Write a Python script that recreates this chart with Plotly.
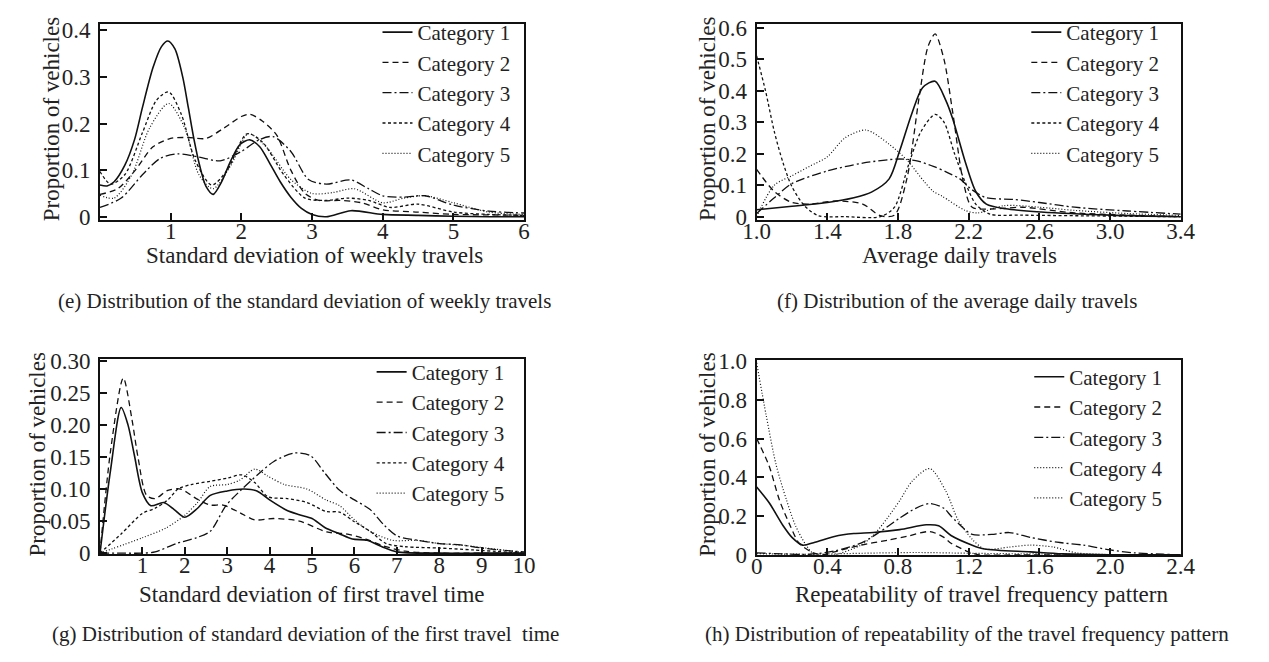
import plotly.graph_objects as go

W, H = 1269, 662
FONT = "Liberation Serif"
TXT = "#222222"
LINE = "#111111"

categories = ["Category 1", "Category 2", "Category 3", "Category 4", "Category 5"]

# ---------------- (e) standard deviation of weekly travels ----------------
e_x1 = [0, 0.1, 0.2, 0.35, 0.49, 0.6, 0.75, 0.87, 0.96, 1.06, 1.17, 1.25, 1.33, 1.41, 1.5, 1.6, 1.72, 1.85, 1.98,
        2.12, 2.26, 2.4, 2.55, 2.7, 2.85, 3.0, 3.2, 3.55, 4.0, 4.5, 5.0, 5.5, 6.0]
e_y1 = [0.068, 0.066, 0.075, 0.11, 0.166, 0.234, 0.32, 0.365, 0.377, 0.36, 0.3, 0.234, 0.166, 0.11, 0.065, 0.048,
        0.075, 0.12, 0.155, 0.165, 0.15, 0.115, 0.075, 0.042, 0.018, 0.005, 0.0, 0.013, 0.005, 0.003, 0.001, 0.0, 0.0]
e_x2 = [0, 0.25, 0.5, 0.75, 1.0, 1.25, 1.5, 1.75, 2.0, 2.12, 2.3, 2.5, 2.7, 2.9, 3.1, 3.4, 3.7, 4.0, 4.5, 5.0, 5.5, 6.0]
e_y2 = [0.048, 0.06, 0.1, 0.15, 0.168, 0.17, 0.168, 0.19, 0.215, 0.22, 0.205, 0.175, 0.1, 0.05, 0.035, 0.035, 0.03,
        0.015, 0.01, 0.005, 0.004, 0.003]
e_x3 = [0, 0.3, 0.6, 0.85, 1.1, 1.4, 1.7, 2.0, 2.25, 2.45, 2.7, 2.95, 3.2, 3.55, 3.8, 4.0, 4.3, 4.6, 5.0, 5.5, 6.0]
e_y3 = [0.02, 0.04, 0.09, 0.125, 0.135, 0.128, 0.12, 0.14, 0.165, 0.172, 0.14, 0.08, 0.07, 0.079, 0.06, 0.045, 0.042,
        0.045, 0.025, 0.012, 0.008]
e_x4 = [0, 0.15, 0.35, 0.6, 0.8, 0.97, 1.15, 1.35, 1.58, 1.8, 2.08, 2.3, 2.6, 2.9, 3.2, 3.5, 3.8, 4.1, 4.5, 5.0, 5.5, 6.0]
e_y4 = [0.097, 0.07, 0.09, 0.18, 0.25, 0.268, 0.22, 0.12, 0.068, 0.1, 0.178, 0.16, 0.09, 0.04, 0.035, 0.04, 0.035,
        0.02, 0.027, 0.01, 0.005, 0.003]
e_x5 = [0, 0.2, 0.45, 0.7, 0.97, 1.2, 1.4, 1.6, 1.85, 2.1, 2.35, 2.7, 3.0, 3.3, 3.6, 4.0, 4.3, 4.6, 5.0, 5.5, 6.0]
e_y5 = [0.046, 0.04, 0.09, 0.19, 0.243, 0.19, 0.09, 0.06, 0.11, 0.178, 0.15, 0.08, 0.05, 0.052, 0.06, 0.03, 0.04,
        0.045, 0.03, 0.01, 0.005]
e_xticks = [1, 2, 3, 4, 5, 6]
e_xtext = ["1", "2", "3", "4", "5", "6"]
e_yticks = [0, 0.1, 0.2, 0.3, 0.4]
e_ytext = ["0", "0.1", "0.2", "0.3", "0.4"]

# ---------------- (f) average daily travels ----------------
f_x1 = [1.0, 1.2, 1.4, 1.55, 1.65, 1.75, 1.81, 1.88, 1.94, 2.01, 2.07, 2.11, 2.18, 2.24, 2.3, 2.41, 2.61, 3.0, 3.4]
f_y1 = [0.022, 0.033, 0.045, 0.06, 0.078, 0.12, 0.21, 0.33, 0.41, 0.43, 0.37, 0.31, 0.175, 0.08, 0.04, 0.025, 0.015,
        0.005, 0.0]
f_x2 = [1.0, 1.1, 1.2, 1.3, 1.45, 1.6, 1.7, 1.78, 1.85, 1.92, 1.97, 2.01, 2.06, 2.11, 2.17, 2.22, 2.35, 2.5, 2.8,
        3.1, 3.4]
f_y2 = [0.15, 0.08, 0.045, 0.04, 0.05, 0.04, 0.003, 0.005, 0.12, 0.38, 0.54, 0.58, 0.5, 0.33, 0.11, 0.03, 0.025,
        0.03, 0.012, 0.005, 0.0]
f_x3 = [1.0, 1.1, 1.2, 1.4, 1.6, 1.8, 1.9, 2.0, 2.08, 2.15, 2.22, 2.3, 2.45, 2.6, 2.8, 3.1, 3.4]
f_y3 = [0.01, 0.06, 0.105, 0.145, 0.17, 0.183, 0.178, 0.16, 0.14, 0.12, 0.085, 0.06, 0.055, 0.045, 0.03, 0.018,
        0.008]
f_x4 = [1.0, 1.05, 1.1, 1.15, 1.2, 1.27, 1.35, 1.5, 1.7, 1.78, 1.86, 1.93, 2.01, 2.06, 2.12, 2.18, 2.24, 2.32, 2.5,
        3.0, 3.4]
f_y4 = [0.51, 0.4, 0.27, 0.17, 0.095, 0.035, 0.003, 0.0, 0.0, 0.03, 0.165, 0.27, 0.325, 0.3, 0.2, 0.11, 0.04, 0.008,
        0.005, 0.002, 0.0]
f_x5 = [1.0, 1.1, 1.2, 1.3, 1.4, 1.5, 1.62, 1.75, 1.85, 1.95, 2.0, 2.05, 2.18, 2.25, 2.4, 2.6, 2.8, 3.1, 3.4]
f_y5 = [0.0, 0.1, 0.13, 0.16, 0.19, 0.25, 0.275, 0.23, 0.18, 0.11, 0.08, 0.065, 0.02, 0.012, 0.035, 0.03, 0.02,
        0.01, 0.004]
f_xticks = [1.0, 1.4, 1.8, 2.2, 2.6, 3.0, 3.4]
f_xtext = ["1.0", "1.4", "1.8", "2.2", "2.6", "3.0", "3.4"]
f_yticks = [0, 0.1, 0.2, 0.3, 0.4, 0.5, 0.6]
f_ytext = ["0", "0.1", "0.2", "0.3", "0.4", "0.5", "0.6"]

# ---------------- (g) standard deviation of first travel time ----------------
g_x1 = [0, 0.25, 0.5, 0.66, 0.81, 1.0, 1.2, 1.5, 1.75, 2.0, 2.3, 2.6, 3.0, 3.4, 3.7, 4.0, 4.4, 4.7, 5.0, 5.3, 5.65,
        5.95, 6.3, 6.65, 7.0, 8, 9, 10]
g_y1 = [0, 0.13, 0.227, 0.2, 0.153, 0.094, 0.074, 0.079, 0.068, 0.056, 0.07, 0.09, 0.097, 0.1, 0.097, 0.083, 0.067,
        0.06, 0.054, 0.04, 0.03, 0.022, 0.02, 0.01, 0.002, 0, 0, 0]
g_x2 = [0, 0.25, 0.55, 0.75, 0.9, 1.1, 1.3, 1.6, 1.9, 2.27, 2.6, 2.9, 3.3, 3.65, 4.1, 4.7, 5.35, 5.8, 6.27, 6.65,
        7.2, 8, 9, 10]
g_y2 = [0, 0.16, 0.273, 0.21, 0.148, 0.09, 0.085, 0.098, 0.1, 0.085, 0.075, 0.075, 0.063, 0.052, 0.054, 0.05, 0.033,
        0.03, 0.022, 0.012, 0.003, 0.0, 0.0, 0.0]
g_x3 = [0, 0.5, 1.0, 1.3, 1.8, 2.27, 2.6, 2.97, 3.35, 3.73, 4.1, 4.57, 4.96, 5.3, 5.65, 6.0, 6.37, 6.68, 7.0, 7.5,
        8.0, 8.5, 9.0, 9.6, 10]
g_y3 = [0, 0.0, 0.0, 0.002, 0.015, 0.024, 0.034, 0.074, 0.1, 0.123, 0.143, 0.156, 0.152, 0.125, 0.098, 0.083, 0.068,
        0.045, 0.027, 0.02, 0.015, 0.013, 0.008, 0.004, 0.002]
g_x4 = [0, 0.5, 1.0, 1.3, 1.6, 1.84, 2.15, 2.6, 3.0, 3.35, 3.65, 3.96, 4.42, 4.88, 5.33, 5.65, 6.0, 6.37, 6.75, 7.2,
        8.0, 8.8, 10]
g_y4 = [0, 0.03, 0.062, 0.07, 0.083, 0.1, 0.107, 0.112, 0.117, 0.122, 0.11, 0.088, 0.085, 0.079, 0.065, 0.064, 0.049,
        0.034, 0.015, 0.01, 0.008, 0.005, 0.0]
g_x5 = [0, 1.0, 1.55, 2.0, 2.3, 2.6, 3.0, 3.3, 3.65, 3.96, 4.35, 4.88, 5.33, 5.65, 6.0, 6.37, 6.9, 7.5, 8.0, 8.6,
        9.1, 10]
g_y5 = [0, 0.024, 0.039, 0.059, 0.079, 0.104, 0.107, 0.114, 0.131, 0.12, 0.107, 0.1, 0.083, 0.074, 0.052, 0.034,
        0.02, 0.02, 0.015, 0.012, 0.008, 0.001]
g_xticks = [1, 2, 3, 4, 5, 6, 7, 8, 9, 10]
g_xtext = ["1", "2", "3", "4", "5", "6", "7", "8", "9", "10"]
g_yticks = [0, 0.05, 0.10, 0.15, 0.20, 0.25, 0.30]
g_ytext = ["0", "0.05", "0.10", "0.15", "0.20", "0.25", "0.30"]

# ---------------- (h) repeatability of travel frequency pattern ----------------
h_x1 = [0, 0.07, 0.15, 0.2, 0.26, 0.33, 0.44, 0.55, 0.66, 0.81, 0.96, 1.03, 1.1, 1.22, 1.29, 1.55, 1.73, 2.0, 2.4]
h_y1 = [0.35, 0.27, 0.15, 0.09, 0.05, 0.065, 0.095, 0.11, 0.115, 0.13, 0.155, 0.15, 0.1, 0.05, 0.03, 0.015, 0.005,
        0.0, 0.0]
h_x2 = [0, 0.07, 0.13, 0.19, 0.24, 0.31, 0.37, 0.44, 0.59, 0.74, 0.85, 0.98, 1.06, 1.1, 1.2, 1.26, 1.5, 2.0, 2.4]
h_y2 = [0.6, 0.46, 0.28, 0.15, 0.06, 0.015, 0.0, 0.015, 0.05, 0.075, 0.095, 0.12, 0.09, 0.06, 0.015, 0.0, 0.0, 0.0,
        0.0]
h_x3 = [0, 0.15, 0.3, 0.44, 0.59, 0.7, 0.81, 0.9, 0.98, 1.06, 1.1, 1.18, 1.22, 1.33, 1.43, 1.55, 1.7, 1.85, 2.0,
        2.14, 2.3, 2.4]
h_y3 = [0.01, 0.005, 0.003, 0.02, 0.06, 0.12, 0.19, 0.24, 0.265, 0.24, 0.2, 0.13, 0.105, 0.105, 0.115, 0.09, 0.065,
        0.05, 0.025, 0.01, 0.003, 0.0]
h_x4 = [0, 0.3, 0.6, 0.9, 1.2, 1.5, 1.8, 2.1, 2.4]
h_y4 = [0.006, 0.003, 0.008, 0.012, 0.008, 0.005, 0.003, 0.001, 0.0]
h_x5 = [0, 0.055, 0.11, 0.17, 0.22, 0.28, 0.33, 0.44, 0.59, 0.66, 0.74, 0.81, 0.88, 0.98, 1.07, 1.14, 1.22, 1.29,
        1.43, 1.55, 1.68, 1.81, 2.0, 2.4]
h_y5 = [0.99, 0.715, 0.465, 0.28, 0.15, 0.05, 0.0, 0.0, 0.05, 0.1, 0.19, 0.28, 0.38, 0.445, 0.33, 0.18, 0.08, 0.03,
        0.04, 0.05, 0.04, 0.01, 0.0, 0.0]
h_xticks = [0, 0.4, 0.8, 1.2, 1.6, 2.0, 2.4]
h_xtext = ["0", "0.4", "0.8", "1.2", "1.6", "2.0", "2.4"]
h_yticks = [0, 0.2, 0.4, 0.6, 0.8, 1.0]
h_ytext = ["0", "0.2", "0.4", "0.6", "0.8", "1.0"]

x_titles = ["Standard deviation of weekly travels", "Average daily travels",
            "Standard deviation of first travel time", "Repeatability of travel frequency pattern"]
captions = ["(e) Distribution of the standard deviation of weekly travels",
            "(f) Distribution of the average daily travels",
            "(g) Distribution of standard deviation of the first travel  time",
            "(h) Distribution of repeatability of the travel frequency pattern"]
y_title = "Proportion of vehicles"

# ---------------- styling ----------------
styles = [
    dict(dash="solid", width=1.6),
    dict(dash="6px,4px", width=1.3),
    dict(dash="9px,3px,2px,3px", width=1.3),
    dict(dash="3px,2.5px", width=1.3),
    dict(dash="1px,2px", width=1.2),
]


def px_x(p):
    return p / W


def px_y(p):
    return 1 - p / H


panels = [
    dict(xs=[e_x1, e_x2, e_x3, e_x4, e_x5], ys=[e_y1, e_y2, e_y3, e_y4, e_y5],
         box=(88, 522, 13, 217), xr=[0, 6], yr=[-0.008, 0.4145],
         xt=(e_xticks, e_xtext), yt=(e_yticks, e_ytext), leg=(372, 1)),
    dict(xs=[f_x1, f_x2, f_x3, f_x4, f_x5], ys=[f_y1, f_y2, f_y3, f_y4, f_y5],
         box=(760, 1194, 13, 217), xr=[1.0, 3.4], yr=[-0.012, 0.613],
         xt=(f_xticks, f_xtext), yt=(f_yticks, f_ytext), leg=(1036, 1)),
    dict(xs=[g_x1, g_x2, g_x3, g_x4, g_x5], ys=[g_y1, g_y2, g_y3, g_y4, g_y5],
         box=(88, 522, 361, 563), xr=[0, 10], yr=[-0.002, 0.302],
         xt=(g_xticks, g_xtext), yt=(g_yticks, g_ytext), leg=(366, 353)),
    dict(xs=[h_x1, h_x2, h_x3, h_x4, h_x5], ys=[h_y1, h_y2, h_y3, h_y4, h_y5],
         box=(760, 1194, 362, 564), xr=[0, 2.4], yr=[-0.003, 1.003],
         xt=(h_xticks, h_xtext), yt=(h_yticks, h_ytext), leg=(1039, 358)),
]

fig = go.Figure()
layout = {}
tickfont = dict(family=FONT, size=23, color=TXT)

for i, p in enumerate(panels):
    n = "" if i == 0 else str(i + 1)
    legname = "legend" + n
    for k in range(5):
        st = dict(styles[k])
        if i == 3 and k == 3:
            st = dict(styles[4])
        fig.add_trace(go.Scatter(
            x=p["xs"][k], y=p["ys"][k], mode="lines", name=categories[k],
            line=dict(color=LINE, width=st["width"], dash=st["dash"], shape="spline", smoothing=0.8),
            xaxis="x" + n, yaxis="y" + n, legend=legname, hoverinfo="skip"))
    x0, x1, y0, y1 = p["box"]
    common = dict(showline=True, linewidth=2, linecolor=LINE, mirror=True, showgrid=False, zeroline=False,
                  ticks="inside", ticklen=7, tickwidth=2, tickcolor=LINE, tickfont=tickfont)
    layout["xaxis" + n] = dict(domain=[px_x(x0), px_x(x1)], range=p["xr"], anchor="y" + n,
                               tickvals=p["xt"][0], ticktext=p["xt"][1], ticklabelstandoff=-11, **common)
    layout["yaxis" + n] = dict(domain=[px_y(y1), px_y(y0)], range=p["yr"], anchor="x" + n,
                               tickvals=p["yt"][0], ticktext=p["yt"][1], ticklabelstandoff=3, **common)
    layout[legname] = dict(x=px_x(p["leg"][0]), y=px_y(p["leg"][1]), xanchor="left", yanchor="top",
                           bgcolor="rgba(0,0,0,0)", borderwidth=0, itemwidth=30, tracegroupgap=0,
                           font=dict(family=FONT, size=21, color=TXT))

annotations = []
ytitle_pos = [(38, 112), (709, 112), (24, 459), (709, 460)]
xtitle_pos = [(308, 253), (968, 253), (305, 604), (990, 604)]
caption_pos = [(297, 300), (965, 300), (298, 645), (975, 645)]
for i in range(4):
    annotations.append(dict(text=y_title, x=px_x(ytitle_pos[i][0]), y=px_y(ytitle_pos[i][1]), xref="paper",
                            yref="paper", textangle=-90, showarrow=False, xanchor="center", yanchor="middle",
                            font=dict(family=FONT, size=23, color=TXT)))
    annotations.append(dict(text=x_titles[i], x=px_x(xtitle_pos[i][0]), y=px_y(xtitle_pos[i][1]), xref="paper",
                            yref="paper", showarrow=False, xanchor="center", yanchor="middle",
                            font=dict(family=FONT, size=23, color=TXT)))
    annotations.append(dict(text=captions[i], x=px_x(caption_pos[i][0]), y=px_y(caption_pos[i][1]), xref="paper",
                            yref="paper", showarrow=False, xanchor="center", yanchor="middle",
                            font=dict(family=FONT, size=21, color=TXT)))

fig.update_layout(width=W, height=H, margin=dict(l=0, r=0, t=0, b=0), paper_bgcolor="white",
                  plot_bgcolor="white", showlegend=True, annotations=annotations, **layout)

fig.write_html("out.html")
